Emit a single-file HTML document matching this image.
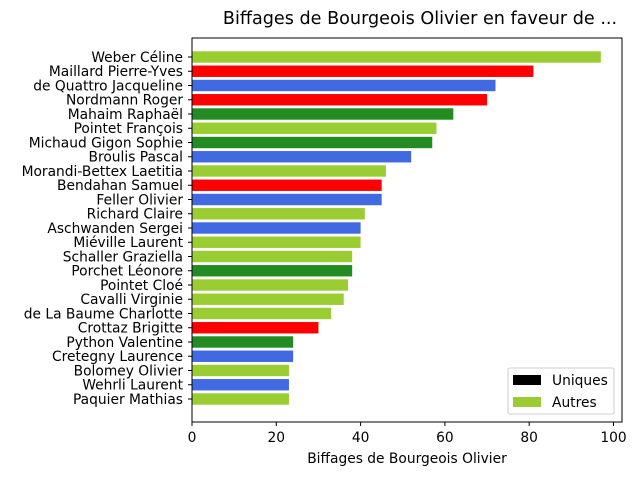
<!DOCTYPE html>
<html><head><meta charset="utf-8"><style>
body{margin:0;background:#fff;font-family:"Liberation Sans","DejaVu Sans",sans-serif;}
</style></head><body>
<svg id="chart" width="640" height="480" xmlns="http://www.w3.org/2000/svg" font-family="DejaVu Sans, Liberation Sans, sans-serif">
<text x="420" y="24" text-anchor="middle" font-size="17.6">Biffages de Bourgeois Olivier en faveur de ...</text>
<g id="bars"></g>
<g id="yticks"></g>
<g id="xticks"></g>
<rect x="192" y="38" width="430" height="384" fill="none" stroke="#000" stroke-width="1"/>
<text x="407" y="463" text-anchor="middle" font-size="13.8">Biffages de Bourgeois Olivier</text>
<g>
<rect x="508" y="368" width="106" height="46" fill="#fff" fill-opacity="0.8" stroke="#ccc" rx="2"/>
<rect x="513" y="375" width="28" height="10" fill="#000"/>
<text x="552" y="385" font-size="13.8">Uniques</text>
<rect x="513" y="397" width="28" height="10" fill="#9acd32"/>
<text x="552" y="407" font-size="13.8">Autres</text>
</g>
</svg>
<script>
const names=["Weber Céline","Maillard Pierre-Yves","de Quattro Jacqueline","Nordmann Roger","Mahaim Raphaël","Pointet François","Michaud Gigon Sophie","Broulis Pascal","Morandi-Bettex Laetitia","Bendahan Samuel","Feller Olivier","Richard Claire","Aschwanden Sergei","Miéville Laurent","Schaller Graziella","Porchet Léonore","Pointet Cloé","Cavalli Virginie","de La Baume Charlotte","Crottaz Brigitte","Python Valentine","Cretegny Laurence","Bolomey Olivier","Wehrli Laurent","Paquier Mathias"];
const values=[97,81,72,70,62,58,57,52,46,45,45,41,40,40,38,38,37,36,33,30,24,24,23,23,23];
const colors=["#9acd32","#ff0000","#4169e1","#ff0000","#228b22","#9acd32","#228b22","#4169e1","#9acd32","#ff0000","#4169e1","#9acd32","#4169e1","#9acd32","#9acd32","#228b22","#9acd32","#9acd32","#9acd32","#ff0000","#228b22","#4169e1","#9acd32","#4169e1","#9acd32"];
const xTicks=[0,20,40,60,80,100];
const NS="http://www.w3.org/2000/svg";
const x=v=>192+v*4.215;
const y=i=>57+i*14.25;
const bars=document.getElementById('bars'),yt=document.getElementById('yticks'),xt=document.getElementById('xticks');
names.forEach((n,i)=>{
 const r=document.createElementNS(NS,'rect');
 r.setAttribute('x',x(0));r.setAttribute('y',y(i)-5.7);r.setAttribute('width',x(values[i])-x(0));r.setAttribute('height',11.4);r.setAttribute('fill',colors[i]);
 
 
 bars.appendChild(r);
 const l=document.createElementNS(NS,'line');
 l.setAttribute('x1',188);l.setAttribute('x2',192);l.setAttribute('y1',y(i));l.setAttribute('y2',y(i));l.setAttribute('stroke','#000');
 yt.appendChild(l);
 const t=document.createElementNS(NS,'text');
 t.setAttribute('x',183);t.setAttribute('y',y(i)+4.8);t.setAttribute('text-anchor','end');t.setAttribute('font-size','13.8');t.textContent=n;
 
 
 yt.appendChild(t);
});
xTicks.forEach(v=>{
 const l=document.createElementNS(NS,'line');
 l.setAttribute('x1',x(v));l.setAttribute('x2',x(v));l.setAttribute('y1',422);l.setAttribute('y2',426);l.setAttribute('stroke','#000');
 xt.appendChild(l);
 const t=document.createElementNS(NS,'text');
 t.setAttribute('x',x(v));t.setAttribute('y',442);t.setAttribute('text-anchor','middle');t.setAttribute('font-size','13.8');t.textContent=v;
 
 
 xt.appendChild(t);
});
</script>
</body></html>
